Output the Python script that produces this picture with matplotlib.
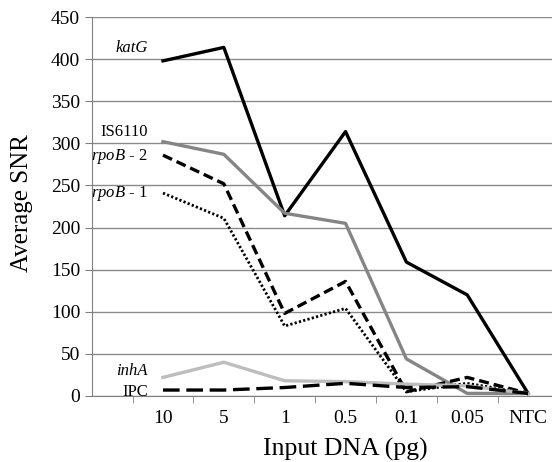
import matplotlib
matplotlib.use("Agg")
import matplotlib.pyplot as plt

plt.rcParams['font.family'] = ['Liberation Serif', 'DejaVu Serif']
plt.rcParams['mathtext.fontset'] = 'custom'
plt.rcParams['mathtext.rm'] = 'Liberation Serif'
plt.rcParams['mathtext.it'] = 'Liberation Serif:italic'

categories = ["10", "5", "1", "0.5", "0.1", "0.05", "NTC"]
katG = [398, 414, 214, 314, 159, 120, 3]
is6110 = [302, 287, 217, 205, 44, 3, 3]
rpoB2 = [286, 252, 98, 136, 5, 22, 3]
rpoB1 = [241, 211, 83, 104, 5, 15, 3]
inhA = [22, 40, 18, 17, 14, 12, 3]
ipc = [7, 7, 10, 15, 10, 11, 3]

fig = plt.figure(figsize=(5.52, 4.62), dpi=100)
ax = fig.add_axes([0.1667, 0.143, 0.833, 0.82])

x = list(range(len(categories)))
ax.plot(x, katG, color='black', lw=2.4)
ax.plot(x, is6110, color='#858585', lw=2.4)
ax.plot(x, rpoB2, color='black', lw=2.4, ls=(0, (3, 1.5)))
ax.plot(x, rpoB1, color='black', lw=2.0, ls=(0, (0.8, 0.8)))
ax.plot(x, inhA, color='#bdbdbd', lw=2.4)
ax.plot(x, ipc, color='black', lw=2.4, ls=(0, (5, 2)))

# series labels at the left of the first point
lab_x = -0.25
fs = 12
ax.text(lab_x, katG[0] + 15, 'katG', style='italic', ha='right', va='center', fontsize=fs)
ax.text(lab_x, is6110[0] + 12, 'IS6110', ha='right', va='center', fontsize=fs)
ax.text(lab_x, rpoB2[0] - 1, r'$\it{rpoB}$ - 2', ha='right', va='center', fontsize=fs)
ax.text(lab_x, rpoB1[0], r'$\it{rpoB}$ - 1', ha='right', va='center', fontsize=fs)
ax.text(lab_x, inhA[0] + 8, 'inhA', style='italic', ha='right', va='center', fontsize=fs)
ax.text(lab_x, ipc[0] - 2, 'IPC', ha='right', va='center', fontsize=fs)

ax.set_xlim(-1.166, 6.39)
ax.set_ylim(0, 450)
ax.set_yticks(range(0, 451, 50))
ax.tick_params(axis='y', labelsize=14, color='#808080', length=5, direction='out')
ax.set_xticks(x)
ax.set_xticklabels(categories, fontsize=14)
ax.set_xticks([i - 0.5 for i in x], minor=True)
ax.tick_params(axis='x', which='major', length=0, pad=10)
ax.tick_params(axis='x', which='minor', length=5, color='#808080', direction='out')

ax.grid(axis='y', color='#8a8a8a', lw=1.0)
ax.set_axisbelow(True)
for s in ['top', 'right']:
    ax.spines[s].set_visible(False)
ax.spines['left'].set_color('#808080')
ax.spines['bottom'].set_color('#808080')

ax.set_ylabel('Average SNR', fontsize=18)
ax.yaxis.set_label_coords(-0.128, 0.51)
ax.set_xlabel('Input DNA (pg)', fontsize=18.5)
ax.xaxis.set_label_coords((3 + 1.166) / 7.556, -0.112)

fig.savefig('out.png', dpi=100)
